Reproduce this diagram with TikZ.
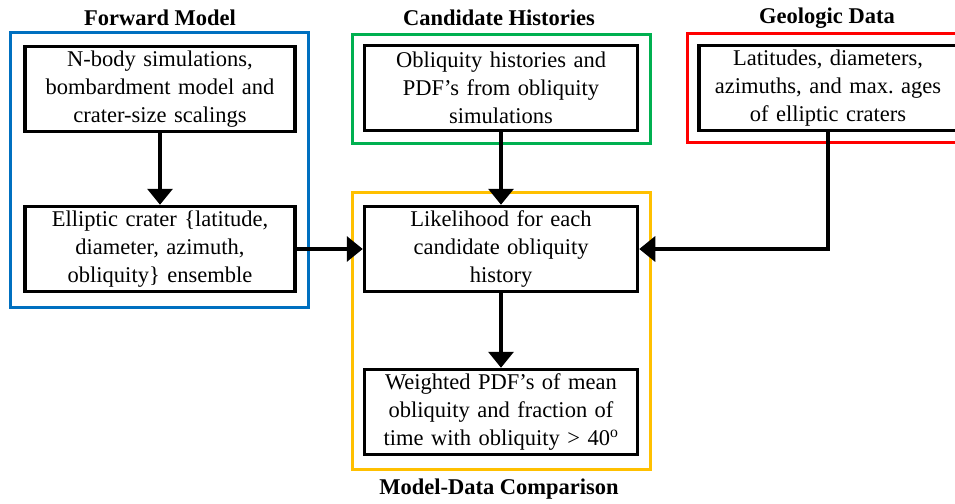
\documentclass[tikz,border=0pt]{standalone}
\usepackage{fontspec}
\setmainfont{Liberation Serif}
\usetikzlibrary{arrows.meta}
\definecolor{frblue}{RGB}{0,112,192}
\definecolor{frgreen}{RGB}{0,176,80}
\definecolor{frred}{RGB}{255,0,0}
\definecolor{fryellow}{RGB}{255,192,0}
\frenchspacing
\begin{document}
\begin{tikzpicture}[x=1pt,y=-1pt,font=\fontsize{22.5}{28}\selectfont,
  blk/.style={draw,line width=3.5pt,minimum height=85pt,inner sep=4pt,align=center},
  arr/.style={line width=3.5pt,-{Triangle[width=25pt,length=16pt]}},
  frame/.style={line width=3pt},
  ttl/.style={font=\fontsize{22.5}{28}\selectfont\bfseries}]
  \clip (0,0) rectangle (955,503);
  % group frames
  \draw[frame,frblue] (10,33) rectangle (308,307);
  \draw[frame,frgreen] (352,35) rectangle (650,143);
  \draw[frame,frred] (687,34) rectangle (972,142);
  \draw[frame,fryellow] (352,192) rectangle (650,469);
  \node[ttl] (tfwd) at (160,18) {Forward Model};
  \node[ttl] (tcand) at (499,18) {Candidate Histories};
  \node[ttl] (tgeo) at (827,18) {Geologic Data};
  \node[ttl] (tcomp) at (499,489) {Model-Data Comparison};
  % boxes
  \node[blk,text width=262pt] (nbody) at (160,89) {N-body simulations,\\ bombardment model and\\ crater-size scalings};
  \node[blk,text width=262pt] (ens) at (160,249) {Elliptic crater \{latitude,\\ diameter, azimuth,\\ obliquity\} ensemble};
  \node[blk,text width=265pt] (obl) at (501,88) {Obliquity histories and\\ PDF’s from obliquity\\ simulations};
  \node[blk,text width=250pt] (geo) at (828,88) {Latitudes, diameters,\\ azimuths, and max. ages\\ of elliptic craters};
  \node[blk,text width=265pt] (like) at (501,249) {Likelihood for each\\ candidate obliquity\\ history};
  \node[blk,text width=265pt] (wpdf) at (501,412) {Weighted PDF’s of mean\\ obliquity and fraction of\\ time with obliquity > 40\textsuperscript{o}};
  % connectors
  \draw[arr] (nbody)--(ens);
  \draw[arr] (obl)--(like);
  \draw[arr] (like)--(wpdf);
  \draw[arr] (ens)--(like);
  \draw[arr] (geo.south)|-(like.east);
\end{tikzpicture}
\end{document}
